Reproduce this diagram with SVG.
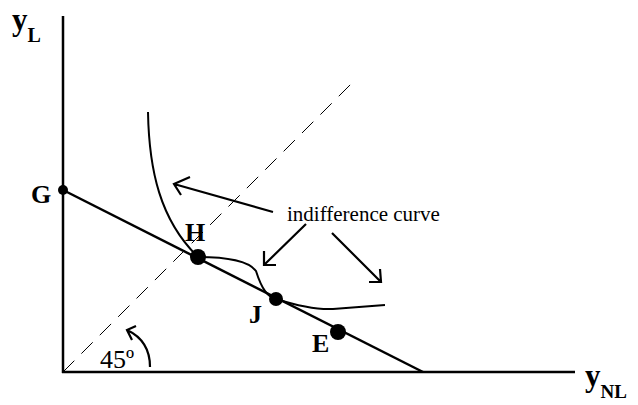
<svg xmlns="http://www.w3.org/2000/svg" width="638" height="405" viewBox="0 0 638 405">
<style>
.ln{fill:none;stroke:#000;stroke-width:2.5}
.cv{fill:none;stroke:#000;stroke-width:2}
.ar{fill:none;stroke:#000;stroke-width:2.2}
.dot{fill:#000}
.lb{font-family:"Liberation Serif",serif;font-weight:bold;fill:#000}
.tx{font-family:"Liberation Serif",serif;fill:#000}
</style>
<rect width="638" height="405" fill="#fff"/>
<g id="connectors">
<line class="ln" x1="63" y1="16" x2="63" y2="373"/>
<line class="ln" x1="62" y1="372" x2="575" y2="372"/>
<line x1="63" y1="372" x2="357" y2="78" stroke="#000" stroke-width="1" stroke-dasharray="16,10"/>
<line class="ln" x1="63" y1="190" x2="423" y2="372"/>
<path class="cv" d="M148,112 C149,170 160,220 198,257"/>
<path class="cv" d="M198,257 C225,257 248,260 256,271 C262,290 268,297 276,299 C295,305 315,310 333,309 L385,305"/>
<path class="ar" d="M273,212 L174,184 M190,177 L174,184 L181,195"/>
<path class="ar" d="M306,224 L264,265 M264,251 L264,265 L276,265"/>
<path class="ar" d="M332,233 L381,282 M380,269 L381,282 L369,282"/>
<path class="ar" d="M150,367 C150,350 142,337 127,330 M136,326 L127,330 L132,340"/>
</g>
<g id="G"><circle class="dot" cx="63" cy="190" r="5"/><text class="lb" x="31" y="203" font-size="26">G</text></g>
<g id="H"><circle class="dot" cx="198" cy="257" r="8"/><text class="lb" x="185" y="241" font-size="26">H</text></g>
<g id="J"><circle class="dot" cx="276" cy="299" r="7"/><text class="lb" x="249" y="323" font-size="26">J</text></g>
<g id="E"><circle class="dot" cx="338" cy="332" r="8"/><text class="lb" x="312" y="352" font-size="26">E</text></g>
<g id="label"><text class="tx" x="287" y="221" font-size="21">indifference curve</text></g>
<g id="angle"><text class="tx" x="100" y="368" font-size="26">45º</text></g>
<g id="yL"><text class="lb" x="12" y="30" font-size="31">y<tspan font-size="20" dy="12">L</tspan></text></g>
<g id="yNL"><text class="lb" x="585" y="386" font-size="31">y<tspan font-size="19" dy="12">NL</tspan></text></g>
</svg>
